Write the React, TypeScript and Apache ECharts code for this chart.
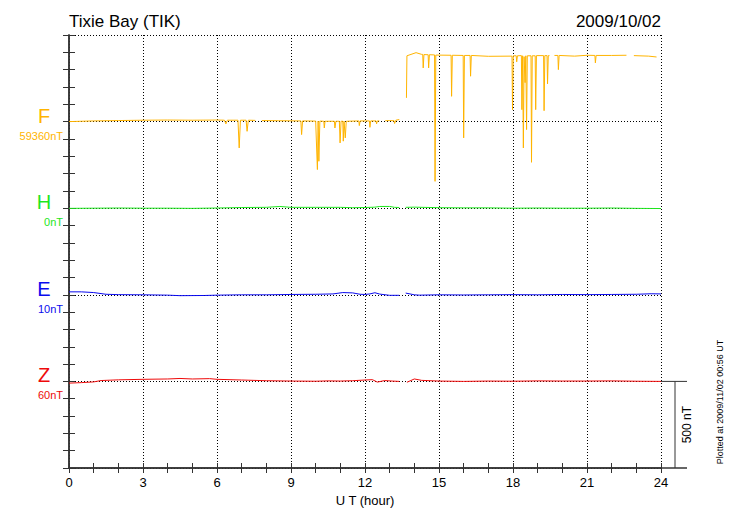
import React, { useEffect, useRef } from "react";
import * as echarts from "echarts";

const TITLE = "Tixie Bay (TIK)";
const DATE = "2009/10/02";
const PLOTTED = "Plotted at 2009/11/02 00:56 UT";
const X_TICKS = [0, 3, 6, 9, 12, 15, 18, 21, 24];

const COMPONENTS = ["F", "H", "E", "Z"];
const BASE_LABELS = ["59360nT", "0nT", "10nT", "60nT"];
const OFFSETS = [2000, 1500, 1000, 500];
const COLORS = ["#ffb400", "#1ee61e", "#0a0aee", "#ee0a0a"];

type P = [number, number | null];

const F_DATA: P[] = [
  [0, 0], [0.5, 2], [1, 4], [2, 6], [3, 8], [4, 9], [5, 8], [6, 9], [6.3, 8], [6.36, -13], [6.42, 8],
  [6.85, 8], [6.9, -152], [6.95, 8], [7.18, 8], [7.22, -56], [7.27, 8], [7.55, 7], [7.7, null],
  [7.82, 6], [8.5, 5], [9.4, 4], [9.43, -75], [9.47, 4], [10.0, 3], [10.07, -277], [10.1, 3],
  [10.13, -229], [10.17, 3], [10.33, 2], [10.35, -37], [10.38, 2], [10.76, 2], [10.78, -37], [10.82, 2],
  [10.96, 2], [10.99, -123], [11.03, 2], [11.1, 2], [11.12, -113], [11.15, 2], [11.2, -94], [11.24, 2],
  [11.75, 4], [11.77, -23], [11.8, 4], [12.18, 4], [12.2, -33], [12.23, 4], [12.45, 4], [12.47, -13],
  [12.5, 4], [12.58, 4], [12.7, null], [12.82, 5], [13.0, 6], [13.18, 5], [13.2, -11], [13.25, 8],
  [13.39, 12], [13.5, null],
  [13.68, 137], [13.7, 380], [14.07, 398], [14.3, 388], [14.34, 388], [14.36, 310], [14.39, 387],
  [14.56, 386], [14.58, 310], [14.61, 386], [14.82, 385], [14.84, -345], [14.87, 384], [15.49, 383],
  [15.51, 146], [15.54, 383], [15.98, 382], [16.0, -94], [16.03, 382], [16.26, 382], [16.28, 262],
  [16.31, 382], [17.0, 377], [17.96, 378], [17.98, 69], [18.01, 380], [18.13, 380], [18.15, 345],
  [18.18, 380], [18.34, 381], [18.36, 69], [18.39, 380], [18.42, -152], [18.45, 375], [18.49, 225],
  [18.52, 380], [18.55, -46], [18.58, 380], [18.73, 380], [18.75, -235], [18.78, 380], [18.9, 380],
  [18.92, 69], [18.95, 381], [19.24, 381], [19.26, 63], [19.29, 381], [19.38, 381], [19.4, 218],
  [19.43, 381], [19.48, 381], [19.55, null], [19.68, 382], [19.82, 382], [19.84, 300], [19.87, 382],
  [20.5, 378], [21.0, 383], [21.32, 382], [21.34, 339], [21.37, 382], [22.0, 382], [22.6, 383],
  [22.75, null], [22.9, 381], [23.5, 378], [23.82, 373],
];

const H_DATA: P[] = [
  [0, -1], [1, 0], [2, 1], [3, 0], [4, 0], [5, -1], [6, 1], [7, 4], [8, 5], [8.55, 10], [9, 5],
  [10, 5], [11, 5], [11.5, 3], [12, 4], [12.4, 6], [12.6, 10], [13.0, 10], [13.2, 5], [13.39, 4],
  [13.5, null], [13.65, 5], [14, 6], [15, 3], [16, 2], [17, 2], [18, 0], [19, 1], [20, 0], [21, 0],
  [22, 1], [23, -1], [24, -2],
];

const E_DATA: P[] = [
  [0, 17], [0.5, 17], [1, 13], [1.5, 3], [2, 1], [3, 0], [4, -2], [4.5, -5], [5.5, -4], [6, -2],
  [7, 0], [8, 0], [9, 2], [10, 3], [10.7, 5], [11.1, 13], [11.5, 11], [11.8, 3], [12, 2], [12.2, 5],
  [12.4, 12], [12.6, 4], [13.0, -3], [13.39, -3], [13.5, null], [13.65, 10], [14.0, 0], [14.2, -2],
  [15, 0], [16, -1], [17, 0], [18, 1], [19, 0], [20, 2], [21, 1], [22, 2], [23, 3], [23.6, 6], [24, 5],
];

const Z_DATA: P[] = [
  [0, -10], [0.5, -7], [1, -3], [1.3, 5], [2, 9], [3, 12], [4, 14], [4.5, 17], [5, 14], [5.7, 16],
  [6, 12], [7, 8], [7.5, 6], [8, 4], [9, 2], [10, 1], [10.5, 3], [11, 2], [11.5, 4], [12, 8],
  [12.3, 10], [12.5, -4], [12.8, 5], [13.1, 2], [13.39, 0], [13.5, null], [13.7, -5], [14, 14],
  [14.3, 6], [15, 2], [16, 0], [17, 2], [18, 1], [19, 3], [20, 2], [21, 2], [22, 3], [23, 1], [24, 0],
];

const ALL = [F_DATA, H_DATA, E_DATA, Z_DATA];
const SCALE_NT = 500;

const FONT = "'Liberation Sans', Arial, Helvetica, sans-serif";

export default function App() {
  const ref = useRef<HTMLDivElement>(null);
  useEffect(() => {
    if (!ref.current) return;
    const chart = echarts.init(ref.current, undefined, { renderer: "svg" });
    const axisColor = "#333";
    const option: any = {
      animation: false,
      backgroundColor: "#fff",
      textStyle: { fontFamily: FONT },
      grid: { left: 69, right: 69, top: 35, bottom: 52, containLabel: false },
      xAxis: [
        {
          type: "value", min: 0, max: 24, interval: 3, position: "bottom",
          axisLine: { lineStyle: { color: axisColor, width: 1.5 } },
          axisTick: { inside: true, length: 5, lineStyle: { color: axisColor } },
          minorTick: { show: true, splitNumber: 3, length: 5, lineStyle: { color: axisColor } },
          axisLabel: { color: "#000", fontSize: 13, margin: 8, fontFamily: FONT },
          splitLine: { show: true, lineStyle: { color: "#000", type: [1, 2], width: 1 } },
          name: "U T (hour)", nameLocation: "middle", nameGap: 23,
          nameTextStyle: { color: "#000", fontSize: 13, fontFamily: FONT },
        },
        {
          type: "value", min: 0, max: 24, interval: 3, position: "top",
          axisLine: { lineStyle: { color: axisColor, width: 1.5 } },
          axisTick: { inside: true, length: 5, lineStyle: { color: axisColor } },
          minorTick: { show: true, splitNumber: 3, length: 5, lineStyle: { color: axisColor } },
          axisLabel: { show: false },
          splitLine: { show: false },
        },
      ],
      yAxis: [
        {
          type: "value", min: 0, max: 2500, interval: 100, position: "left",
          axisLine: { show: true, lineStyle: { color: axisColor, width: 1.5 } },
          axisTick: { show: true, inside: true, length: 6, lineStyle: { color: axisColor } },
          axisLabel: { show: false },
          splitLine: { show: false },
        },
        {
          type: "value", min: 0, max: 2500, interval: 500, position: "right",
          axisLine: { show: true, lineStyle: { color: axisColor, width: 1.5 } },
          axisTick: { show: true, inside: true, length: 6, lineStyle: { color: axisColor } },
          minorTick: { show: true, splitNumber: 5, length: 6, lineStyle: { color: axisColor } },
          axisLabel: { show: false },
          splitLine: { show: true, lineStyle: { color: "#000", type: [1, 2], width: 1 } },
        },
      ],
      series: ALL.map((d, i) => ({
        type: "line",
        name: COMPONENTS[i],
        xAxisIndex: 0,
        yAxisIndex: 0,
        showSymbol: false,
        connectNulls: false,
        silent: true,
        lineStyle: { color: COLORS[i], width: 1 },
        data: d.map(([x, v]) => [x, v === null ? null : v + OFFSETS[i]]),
        z: 3,
      })),
    };
    chart.setOption(option);

    const px = (x: number, y: number) => chart.convertToPixel({ xAxisIndex: 0, yAxisIndex: 0 }, [x, y]) as number[];
    const graphics: any[] = [];
    const tl = px(0, 2500);
    const br = px(24, 0);
    graphics.push({
      type: "text", x: tl[0], y: tl[1] - 14,
      style: { text: TITLE, font: `17px ${FONT}`, fill: "#000", textAlign: "left", textVerticalAlign: "middle" },
    });
    graphics.push({
      type: "text", x: br[0], y: tl[1] - 14,
      style: { text: DATE, font: `17px ${FONT}`, fill: "#000", textAlign: "right", textVerticalAlign: "middle" },
    });
    COMPONENTS.forEach((c, i) => {
      const p = px(0, OFFSETS[i]);
      graphics.push({
        type: "text", x: 44, y: p[1] - 6,
        style: { text: c, font: `20px ${FONT}`, fill: COLORS[i], textAlign: "center", textVerticalAlign: "middle" },
      });
      graphics.push({
        type: "text", x: 63, y: p[1] + 14,
        style: { text: BASE_LABELS[i], font: `11px ${FONT}`, fill: COLORS[i], textAlign: "right", textVerticalAlign: "middle" },
      });
    });
    const zb = px(24, OFFSETS[3]);
    const zt = px(24, OFFSETS[3] - SCALE_NT);
    graphics.push({ type: "line", shape: { x1: zb[0], y1: zb[1], x2: zb[0] + 26, y2: zb[1] }, style: { stroke: "#333", lineWidth: 1 } });
    graphics.push({ type: "line", shape: { x1: zt[0], y1: zt[1], x2: zt[0] + 26, y2: zt[1] }, style: { stroke: "#333", lineWidth: 1.5 } });
    graphics.push({ type: "line", shape: { x1: zb[0] + 14, y1: zb[1], x2: zb[0] + 14, y2: zt[1] }, style: { stroke: "#333", lineWidth: 1 } });
    graphics.push({
      type: "text", x: zb[0] + 26, y: (zb[1] + zt[1]) / 2, rotation: Math.PI / 2,
      style: { text: `${SCALE_NT} nT`, font: `12px ${FONT}`, fill: "#000", textAlign: "center", textVerticalAlign: "middle" },
    });
    graphics.push({
      type: "text", x: 720, y: 402, rotation: Math.PI / 2,
      style: { text: PLOTTED, font: `9px ${FONT}`, fill: "#000", textAlign: "center", textVerticalAlign: "middle" },
    });
    chart.setOption({ graphic: graphics });

    return () => chart.dispose();
  }, []);
  return <div ref={ref} style={{ position: "fixed", left: 0, top: 0, width: 730, height: 520 }} />;
}
